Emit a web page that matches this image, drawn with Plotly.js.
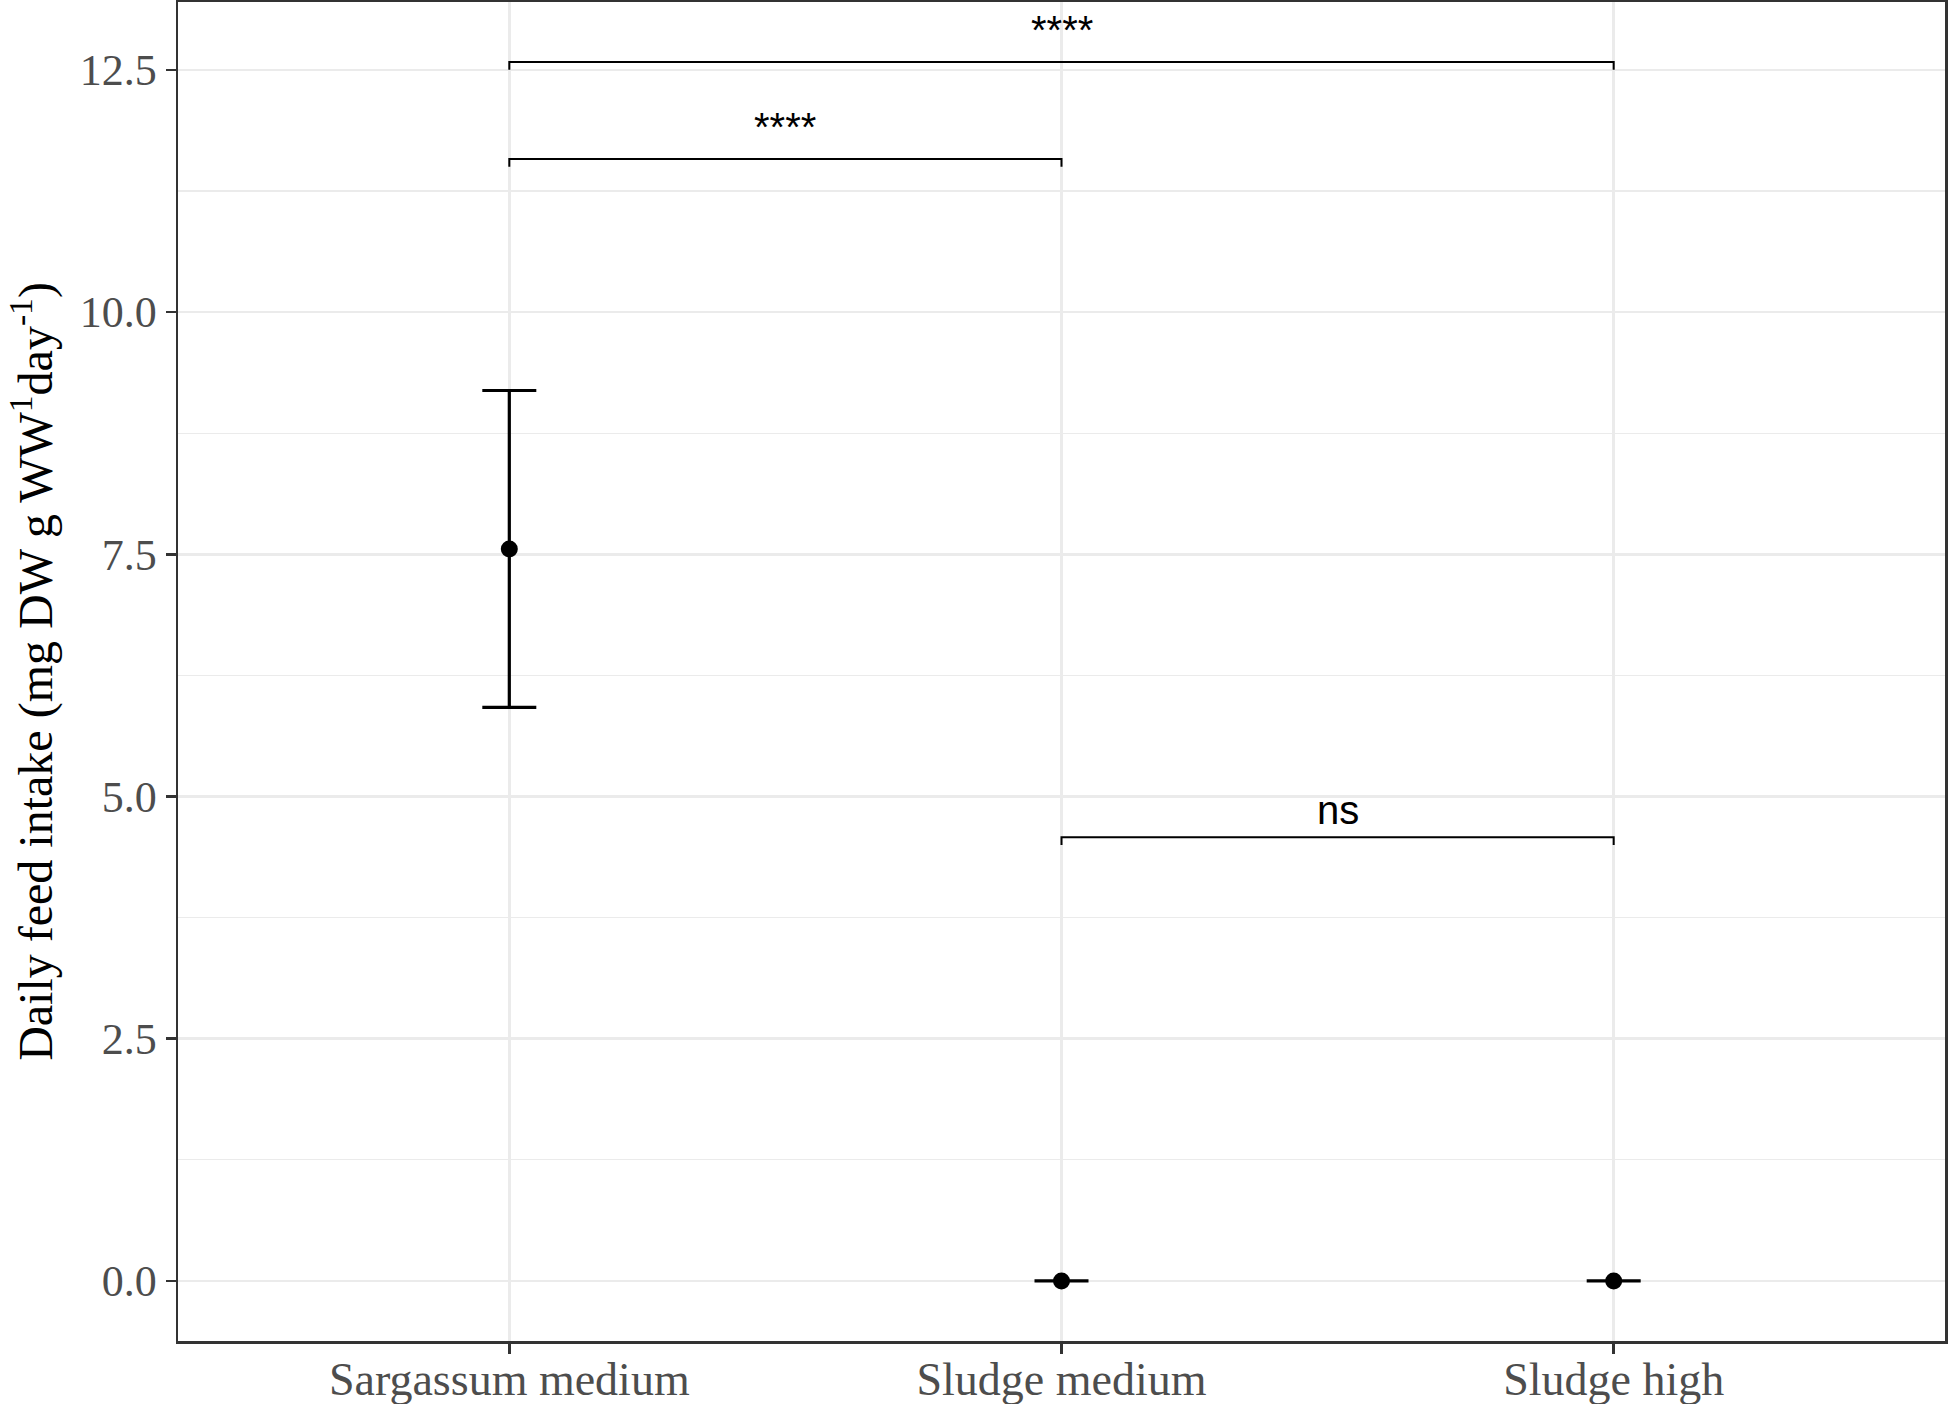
<!DOCTYPE html>
<html>
<head>
<meta charset="utf-8">
<script src="https://cdn.plot.ly/plotly-3.0.1.min.js"></script>
<style>html,body{margin:0;padding:0;background:#fff;}</style>
</head>
<body>
<div id="chart" style="width:1949px;height:1404px;"></div>
<script>
// Data
const groups = ["Sargassum medium", "Sludge medium", "Sludge high"];
const means = [7.555, 0.0, 0.0];
const errors = [1.635, 0.0, 0.0];

// Significance comparisons
const cmpGroup1 = ["Sargassum medium", "Sargassum medium", "Sludge medium"];
const cmpGroup2 = ["Sludge high", "Sludge medium", "Sludge high"];
const cmpY = [12.58, 11.58, 4.58];
const cmpLabels = ["****", "****", "ns"];
const tipLength = 0.08;

const yTickVals = [0, 2.5, 5, 7.5, 10, 12.5];

const traces = [];
// brackets
for (let i = 0; i < cmpGroup1.length; i++) {
  traces.push({
    type: "scatter", mode: "lines",
    x: [cmpGroup1[i], cmpGroup1[i], cmpGroup2[i], cmpGroup2[i]],
    y: [cmpY[i] - tipLength, cmpY[i], cmpY[i], cmpY[i] - tipLength],
    line: {color: "#000000", width: 2},
    hoverinfo: "skip", showlegend: false
  });
}
// points with error bars
traces.push({
  type: "scatter", mode: "markers",
  x: groups, y: means,
  error_y: {type: "data", array: errors, visible: true, color: "#000000", thickness: 3.2, width: 27},
  marker: {color: "#000000", size: 17},
  showlegend: false
});

const annotations = cmpLabels.map((lab, i) => ({
  x: (groups.indexOf(cmpGroup1[i]) + groups.indexOf(cmpGroup2[i])) / 2,
  y: cmpY[i], xref: "x", yref: "y",
  text: lab, showarrow: false, yanchor: "bottom",
  yshift: lab === "ns" ? 3 : 8,
  font: {family: "Liberation Sans, Arial, sans-serif", size: 40, color: "#000000"}
}));

const layout = {
  width: 1949, height: 1404,
  margin: {l: 178, r: 4, t: 2, b: 63},
  paper_bgcolor: "#ffffff", plot_bgcolor: "#ffffff",
  showlegend: false,
  xaxis: {
    type: "category", categoryorder: "array", categoryarray: groups,
    range: [-0.6, 2.6],
    showgrid: true, gridcolor: "#EBEBEB", gridwidth: 2.5,
    zeroline: false,
    showline: true, mirror: true, linecolor: "#333333", linewidth: 2.5,
    ticks: "outside", ticklen: 10, tickwidth: 2.5, tickcolor: "#333333",
    ticklabelstandoff: -14,
    tickfont: {family: "Liberation Serif, Times New Roman, serif", size: 46, color: "#4D4D4D"}
  },
  yaxis: {
    range: [-0.62, 13.2],
    tickvals: yTickVals, tickformat: ".1f",
    showgrid: true, gridcolor: "#EBEBEB", gridwidth: 2.5,
    minor: {showgrid: true, gridcolor: "#EBEBEB", gridwidth: 1.3, tick0: 1.25, dtick: 2.5},
    zeroline: false,
    showline: true, mirror: true, linecolor: "#333333", linewidth: 2.5,
    ticks: "outside", ticklen: 10, tickwidth: 2.5, tickcolor: "#333333",
    tickfont: {family: "Liberation Serif, Times New Roman, serif", size: 44, color: "#4D4D4D"},
    title: {
      text: "Daily feed intake (mg DW g WW<sup>1</sup>day<sup>-1</sup>)",
      font: {family: "Liberation Serif, Times New Roman, serif", size: 48, color: "#000000"},
      standoff: 12
    }
  },
  annotations: annotations
};

Plotly.newPlot("chart", traces, layout, {displayModeBar: false, staticPlot: true});
</script>
</body>
</html>
